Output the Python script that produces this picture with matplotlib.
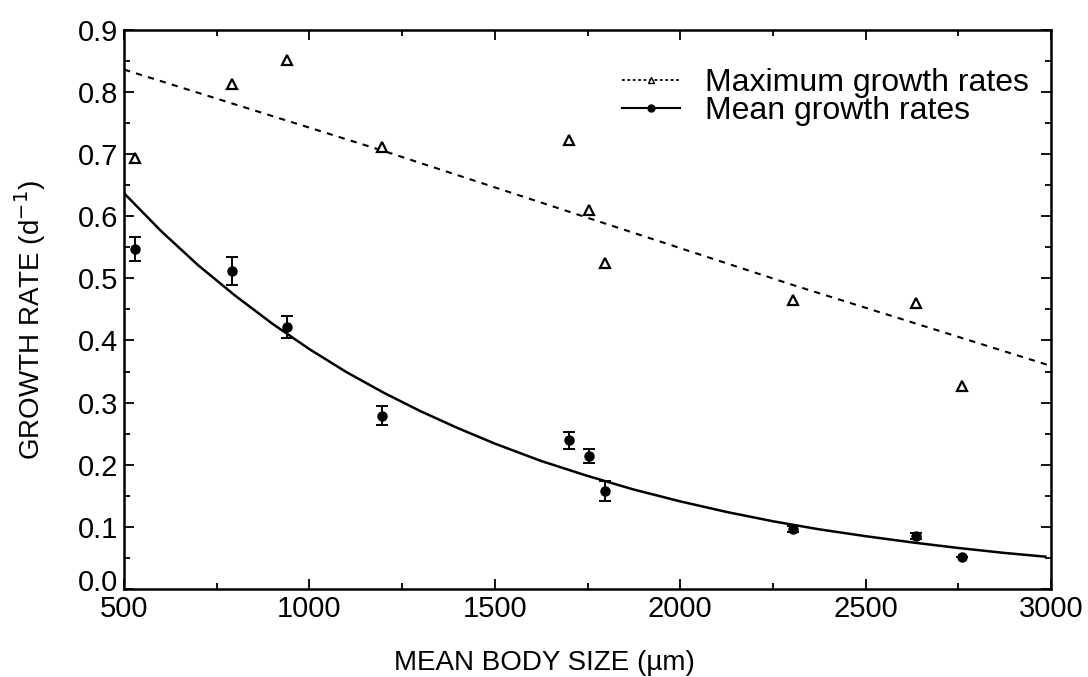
import matplotlib
matplotlib.use("Agg")
import matplotlib.pyplot as plt
from matplotlib.ticker import MultipleLocator, FuncFormatter

plt.rcParams['font.family'] = ['Liberation Sans', 'DejaVu Sans']

# body size (um) of each sample
body_size = [530, 790, 940, 1195, 1700, 1755, 1797, 2305, 2637, 2760]

# maximum growth rates (triangles)
max_rate = [0.694, 0.812, 0.851, 0.711, 0.723, 0.610, 0.525, 0.465, 0.460, 0.327]

# mean growth rates with error bars (circles)
mean_rate = [0.547, 0.512, 0.422, 0.279, 0.239, 0.214, 0.157, 0.096, 0.085, 0.051]
mean_err = [0.019, 0.022, 0.018, 0.015, 0.014, 0.011, 0.016, 0.005, 0.005, 0.0]

# fitted line for the maxima
max_fit_x = [500, 1200, 2300, 3000]
max_fit_y = [0.836, 0.705, 0.490, 0.359]

# fitted curve for the means
mean_fit_x = [500, 600, 700, 800, 900, 1000, 1100, 1200, 1300, 1400, 1500,
              1625, 1750, 1875, 2000, 2125, 2250, 2375, 2500, 2625, 2750,
              2875, 2985]
mean_fit_y = [0.637, 0.576, 0.521, 0.472, 0.427, 0.386, 0.349, 0.316, 0.286,
              0.259, 0.234, 0.206, 0.182, 0.160, 0.141, 0.124, 0.109, 0.096,
              0.085, 0.075, 0.066, 0.058, 0.052]

fig = plt.figure(figsize=(10.88, 6.77), dpi=100)
ax = fig.add_axes([0.114, 0.130, 0.852, 0.826])

# maxima
ax.plot(max_fit_x, max_fit_y, color='black', linestyle=(0, (3, 3)), linewidth=1.5)
ax.plot(body_size, max_rate, linestyle='none', marker='^', markersize=7,
        markerfacecolor='white', markeredgecolor='black', markeredgewidth=1.6)

# means
ax.plot(mean_fit_x, mean_fit_y, color='black', linewidth=1.8)
ax.errorbar(body_size, mean_rate, yerr=mean_err, fmt='o', color='black',
            markersize=6.5, capsize=4, elinewidth=1.4, capthick=1.4)

# legend proxies
ax.plot([], [], color='black', linestyle=(0, (1.5, 1.5)), linewidth=1.3,
        marker='^', markersize=5, markerfacecolor='white',
        markeredgecolor='black', label='Maximum growth rates')
ax.plot([], [], color='black', linewidth=1.5, marker='o', markersize=5,
        label='Mean growth rates')
ax.legend(loc='upper right', frameon=False, fontsize=23, handlelength=1.8,
          handletextpad=0.8, labelspacing=-0.05, borderaxespad=0.0,
          bbox_to_anchor=(0.99, 0.955))

ax.set_xlim(500, 3000)
ax.set_ylim(0, 0.9)
ax.xaxis.set_major_locator(MultipleLocator(500))
ax.xaxis.set_minor_locator(MultipleLocator(250))
ax.yaxis.set_major_locator(MultipleLocator(0.1))
ax.yaxis.set_minor_locator(MultipleLocator(0.05))
# "0.0" is written separately, a touch higher, so it clears "500"
ax.yaxis.set_major_formatter(FuncFormatter(lambda v, p: '' if abs(v) < 1e-9 else f'{v:.1f}'))
ax.annotate('0.0', xy=(0, 0), xycoords='axes fraction', xytext=(-4, 4),
            textcoords='offset points', ha='right', va='center', fontsize=21)

ax.tick_params(which='both', direction='in', top=True, right=True,
               labelsize=21, width=1.3)
ax.tick_params(which='major', length=7)
ax.tick_params(axis='y', which='major', pad=4)
ax.tick_params(axis='x', which='major', pad=4)
ax.tick_params(which='minor', length=4)
for sp in ax.spines.values():
    sp.set_linewidth(1.8)

ax.set_xlabel('MEAN BODY SIZE (µm)', fontsize=20, x=0.454, labelpad=20)
ax.set_ylabel('GROWTH RATE (d$^{-1}$)', fontsize=20, y=0.481, labelpad=22)

fig.savefig('out.png', dpi=100)
